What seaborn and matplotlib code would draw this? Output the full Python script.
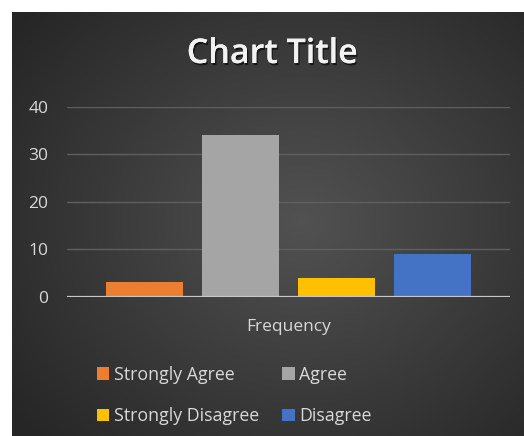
import numpy as np
import pandas as pd
import matplotlib
matplotlib.use("Agg")
import matplotlib.pyplot as plt
import matplotlib.patheffects as pe
import seaborn as sns

# Survey responses
responses = ["Strongly Agree", "Agree", "Strongly Disagree", "Disagree"]
frequency = [3, 34, 4, 9]
group_label = ["Frequency"] * len(responses)
bar_colors = ["#ED7D31", "#A5A5A5", "#FFC000", "#4472C4"]
y_ticks = [0, 10, 20, 30, 40]

df = pd.DataFrame({"group": group_label, "response": responses, "count": frequency})

sns.set_theme(style="dark")
plt.rcParams["font.family"] = ["Open Sans", "DejaVu Sans"]

W, H = 524, 436
fig = plt.figure(figsize=(W / 100, H / 100), dpi=100, facecolor="white")

# Dark chart area with a soft radial glow
bg = fig.add_axes([12 / W, 0, 1 - 12 / W, 1 - 12 / H])
yy, xx = np.mgrid[0:424, 0:512]
cx, cy = 290, 210
r = np.sqrt(((xx - cx) / 340.0) ** 2 + ((yy - cy) / 300.0) ** 2)
shade = np.clip(0.32 - 0.16 * r, 0.15, 0.33)
bg.imshow(np.dstack([shade, shade, shade]), aspect="auto", extent=[0, 1, 0, 1], origin="upper")
bg.set_axis_off()

ax = fig.add_axes([67 / W, (H - 296.7) / H, (510 - 67) / W, (296.7 - 106.7) / H])
ax.set_facecolor("none")
sns.barplot(data=df, x="group", y="count", hue="response", hue_order=responses,
            palette=bar_colors, width=0.867, gap=0.19, saturation=1, ax=ax,
            legend=True, zorder=3, linewidth=0, edgecolor="none")

ax.set_ylim(0, 40)
ax.set_xlim(-0.5, 0.5)
ax.set_yticks(y_ticks)
ax.set_yticklabels([str(v) for v in y_ticks])
ax.set_xlabel("")
ax.set_ylabel("")
for s in ax.spines.values():
    s.set_visible(False)
for v in y_ticks[1:]:
    ax.axhline(v, color="#5f5f5f", lw=1.0, zorder=1)
ax.axhline(0, color="#c8c8c8", lw=1.6, zorder=4)
ax.tick_params(axis="y", colors="#d9d9d9", labelsize=12.5, length=0, pad=13.5)
ax.tick_params(axis="x", colors="#d9d9d9", labelsize=12.5, length=0, pad=16)
for lab in ax.get_yticklabels() + ax.get_xticklabels():
    lab.set_color("#d9d9d9")

# Legend in two rows, read left to right
handles, labels = ax.get_legend_handles_labels()
ax.get_legend().remove()
order = [0, 2, 1, 3]
leg = fig.legend([handles[i] for i in order], [labels[i] for i in order],
                 ncol=2, loc="center left", bbox_to_anchor=(97 / W, 1 - 395.5 / H),
                 frameon=False, fontsize=12.8, labelcolor="#d9d9d9",
                 borderaxespad=0, borderpad=0,
                 handlelength=0.7, handleheight=0.7, handletextpad=0.25,
                 columnspacing=1.3, labelspacing=1.32)

fig.text(272 / W, 1 - 54 / H, "Chart Title", ha="center", va="center",
         fontsize=24.5, fontweight="semibold", color="#f2f2f2",
         path_effects=[pe.withSimplePatchShadow(offset=(1, -1.5), shadow_rgbFace="black", alpha=0.6),
                       pe.Normal()])

fig.savefig("out.png", dpi=100, facecolor="white")
